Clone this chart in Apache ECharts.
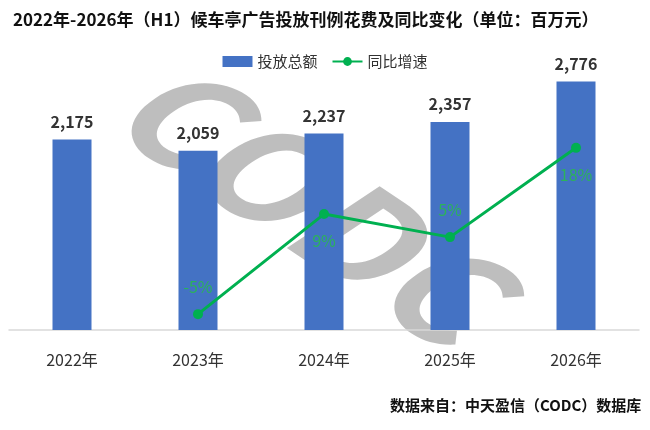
<!DOCTYPE html>
<html lang="zh">
<head>
    <meta charset="UTF-8">
    <style>
        html, body { margin: 0; padding: 0; background: #fff; }
        #chart { width: 650px; height: 430px; }
    </style>
</head>
<body>
    <div id="chart"></div>
    <script src="https://cdn.jsdelivr.net/npm/echarts@6/dist/echarts.min.js"></script>
    <script>
        const years = ['2022年', '2023年', '2024年', '2025年', '2026年'];
        const spend = [2175, 2059, 2237, 2357, 2776];
        // growth in %, first year has no value
        const growth = [null, -5.3, 8.6, 5.4, 17.8];
        const growthLabelPos = [null, 'top', 'bottom', 'top', 'bottom'];

        const font = '"Noto Sans CJK SC", "Noto Sans", sans-serif';
        const green = '#00B050';

        const chart = echarts.init(document.getElementById('chart'));

        chart.setOption({
            animation: false,
            textStyle: { fontFamily: font },
            title: {
                text: '2022年-2026年（H1）候车亭广告投放刊例花费及同比变化（单位：百万元）',
                left: 8,
                top: 6,
                textStyle: { fontSize: 17, fontWeight: 'bold', color: '#111', fontFamily: font }
            },
            legend: {
                top: 49,
                left: 'center',
                itemWidth: 30,
                itemHeight: 11,
                itemGap: 14,
                textStyle: { fontSize: 15, color: '#333' },
                data: [
                    { name: '投放总额', icon: 'rect' },
                    { name: '同比增速' }
                ]
            },
            grid: { left: 9, right: 11, top: 60, bottom: 100 },
            graphic: [
                {
                    type: 'text',
                    left: 640 - 250,
                    top: 398,
                    style: {
                        text: '数据来自：中天盈信（CODC）数据库',
                        font: 'bold 15px ' + font,
                        fill: '#111'
                    }
                },
                {
                    // watermark: rotated text, then stretched sideways
                    type: 'group',
                    x: 322,
                    y: 208,
                    scaleX: 1.5,
                    z: 100,
                    children: [{
                        type: 'text',
                        rotation: -Math.PI / 4,
                        style: {
                            text: 'CODC',
                            font: 'bold 118px ' + font,
                            fill: 'rgba(125,125,125,0.5)',
                            align: 'center',
                            verticalAlign: 'middle'
                        }
                    }]
                }
            ],
            xAxis: {
                type: 'category',
                data: years,
                axisLine: { onZero: false, lineStyle: { color: '#d9d9d9', width: 1.5 } },
                axisTick: { show: false },
                axisLabel: { fontSize: 16, color: '#333', margin: 22 }
            },
            yAxis: [
                { type: 'value', min: 200, max: 3000, show: false, splitLine: { show: false } },
                { type: 'value', min: -7.5, max: 30, show: false, splitLine: { show: false } }
            ],
            series: [
                {
                    name: '投放总额',
                    type: 'bar',
                    data: spend,
                    barWidth: 39,
                    itemStyle: { color: '#4472C4' },
                    label: {
                        show: true,
                        position: 'top',
                        distance: 10,
                        fontSize: 16,
                        fontWeight: 'bold',
                        color: '#333',
                        formatter: p => p.value.toLocaleString('en-US')
                    }
                },
                {
                    name: '同比增速',
                    type: 'line',
                    yAxisIndex: 1,
                    data: growth.map((v, i) => v === null ? null : {
                        value: v,
                        label: { position: growthLabelPos[i] }
                    }),
                    symbol: 'circle',
                    symbolSize: 10,
                    lineStyle: { color: green, width: 3 },
                    itemStyle: { color: green },
                    label: {
                        show: true,
                        distance: 14,
                        fontSize: 16,
                        color: '#2bb35a',
                        formatter: p => Math.round(p.value) + '%'
                    }
                }
            ]
        });
    </script>
</body>
</html>
